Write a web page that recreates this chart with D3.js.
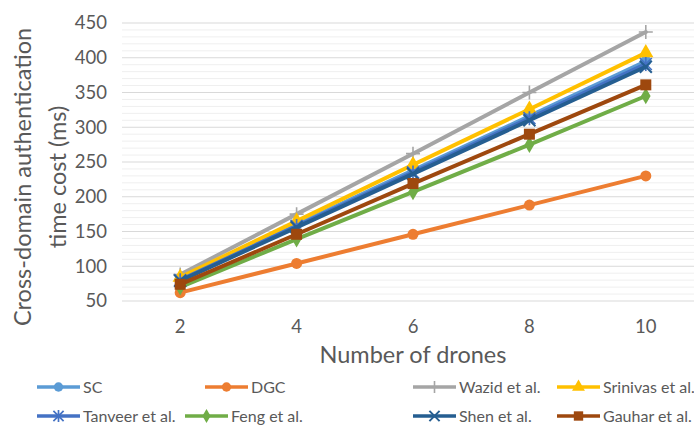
<!DOCTYPE html>
<html><head><meta charset="utf-8">
<script src="https://cdn.jsdelivr.net/npm/d3@7"></script>
<style>body{margin:0;background:#fff}svg{display:block}</style>
</head><body><svg id="c" width="694" height="431"></svg>
<script>
const categories = [2, 4, 6, 8, 10];
const seriesNames = ["SC","DGC","Wazid et al.","Srinivas et al.","Tanveer et al.","Feng et al.","Shen et al.","Gauhar et al."];
const SC       = [82, 160, 238, 316, 395];
const DGC      = [62, 104, 146, 188, 230];
const Wazid    = [88, 175, 262, 350, 437];
const Srinivas = [84, 165, 246, 326, 407];
const Tanveer  = [80, 158, 235, 313, 391];
const Feng     = [70, 139, 207, 275, 345];
const Shen     = [79, 156, 233, 310, 387];
const Gauhar   = [74, 146, 219, 290, 361];
const yTicks = [50,100,150,200,250,300,350,400,450];
const colors = ["#5B9BD5","#ED7D31","#A5A5A5","#FFC000","#4472C4","#70AD47","#255E91","#9E480E"];
const markers = ["circle","circle","plus","triangle","asterisk","diamond","cross","square"];
const values = [SC,DGC,Wazid,Srinivas,Tanveer,Feng,Shen,Gauhar];

const svg = d3.select("#c");
const font = "Lato, 'Open Sans', sans-serif";
const x = d3.scaleBand().domain(categories).range([122, 704]);
const y = d3.scaleLinear().domain([50, 450]).range([301, 23]);
const cx = d => x(d) + x.bandwidth()/2;

// grid (minor every 10, major every 50)
svg.append("g").selectAll("line").data(d3.range(50, 451, 10)).join("line")
  .attr("x1", 122).attr("x2", 704).attr("y1", d=>y(d)).attr("y2", d=>y(d))
  .attr("stroke", d => d % 50 === 0 ? "#d9d9d9" : "#efefef").attr("stroke-width", 1);

// y tick labels
svg.append("g").selectAll("text").data(yTicks).join("text")
  .attr("x", 107).attr("y", d=>y(d)).attr("dy", "0.35em").attr("text-anchor","end")
  .attr("font-family", font).attr("font-size", 18.5).attr("fill", "#595959").text(d=>d);
// x tick labels
svg.append("g").selectAll("text").data(categories).join("text")
  .attr("x", d=>cx(d)).attr("y", 327).attr("dy","0.35em").attr("text-anchor","middle")
  .attr("font-family", font).attr("font-size", 18.5).attr("fill", "#595959").text(d=>d);

// axis titles
svg.append("text").attr("x", 413).attr("y", 355).attr("dy","0.35em").attr("text-anchor","middle")
  .attr("font-family", font).attr("font-size", 23.5).attr("fill", "#595959").text("Number of drones");
const yt = svg.append("text").attr("transform","translate(0,177) rotate(-90)")
  .attr("text-anchor","middle").attr("font-family", font).attr("font-size", 23.5).attr("fill", "#595959");
yt.append("tspan").attr("x",0).attr("y",31).text("Cross-domain authentication");
yt.append("tspan").attr("x",0).attr("y",66).text("time cost (ms)");

function drawMarker(g, type, color, s) {
  if (type === "circle") g.append("circle").attr("r", 5.5*s).attr("fill", color);
  else if (type === "square") g.append("rect").attr("x",-5.5*s).attr("y",-5.5*s).attr("width",11*s).attr("height",11*s).attr("fill", color);
  else if (type === "triangle") g.append("path").attr("d", d3.symbol(d3.symbolTriangle, 100*s*s)()).attr("fill", color);
  else if (type === "diamond") g.append("path").attr("d", d3.symbol(d3.symbolDiamond, 80*s*s)()).attr("fill", color);
  else if (type === "plus") g.append("path").attr("d", `M${-7*s},0H${7*s}M0,${-7*s}V${7*s}`).attr("stroke", color).attr("stroke-width", 1.6);
  else if (type === "cross") g.append("path").attr("d", `M${-6*s},${-6*s}L${6*s},${6*s}M${-6*s},${6*s}L${6*s},${-6*s}`).attr("stroke", color).attr("stroke-width", 2);
  else if (type === "asterisk") g.append("path").attr("d", `M${-6*s},${-6*s}L${6*s},${6*s}M${-6*s},${6*s}L${6*s},${-6*s}M0,${-7*s}V${7*s}`).attr("stroke", color).attr("stroke-width", 1.7);
}

const line = d3.line().x((d,i)=>cx(categories[i])).y(d=>y(d));
values.forEach((vals, k) => {
  const g = svg.append("g");
  g.append("path").attr("d", line(vals)).attr("fill","none").attr("stroke", colors[k])
    .attr("stroke-width", 4).attr("stroke-linejoin","round").attr("stroke-linecap","round");
  vals.forEach((v,i) => {
    const m = g.append("g").attr("transform", `translate(${cx(categories[i])},${y(v)})`);
    drawMarker(m, markers[k], colors[k], 1);
  });
});

// legend
const legendPos = [[37,387],[205,387],[413,387],[557,387],[37,416],[185,416],[413,416],[557,416]];
seriesNames.forEach((name, k) => {
  const [lx, ly] = legendPos[k];
  const g = svg.append("g");
  g.append("line").attr("x1", lx).attr("x2", lx+43).attr("y1", ly).attr("y2", ly)
    .attr("stroke", colors[k]).attr("stroke-width", 3.5);
  const m = g.append("g").attr("transform", `translate(${lx+21.5},${ly})`);
  drawMarker(m, markers[k], colors[k], 0.85);
  g.append("text").attr("x", lx+46).attr("y", ly).attr("dy","0.35em")
    .attr("font-family", font).attr("font-size", 16).attr("fill", "#595959").text(name);
});
</script></body></html>
